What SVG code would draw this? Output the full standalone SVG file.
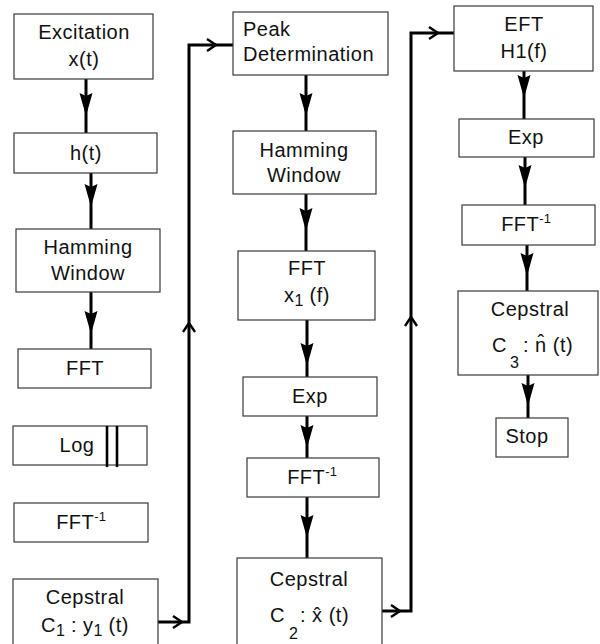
<svg xmlns="http://www.w3.org/2000/svg" xmlns:xlink="http://www.w3.org/1999/xlink" width="600" height="644" viewBox="0 0 600 644">
<style>
.box{fill:#fff;stroke:#3a3a3a;stroke-width:1.2}
.t{font-family:"Liberation Sans",Arial,sans-serif;font-size:20px;letter-spacing:0.5px;fill:#111;text-anchor:middle}
.l{text-anchor:start}
.sub{font-size:16px;letter-spacing:0}
.sup{font-size:13px;letter-spacing:0}
.c{fill:none;stroke:#000;stroke-width:3}
.f{fill:none;stroke:#000;stroke-width:3;stroke-linejoin:miter}
.ch{fill:none;stroke:#000;stroke-width:2.4}
.bar{stroke:#000;stroke-width:2.6}
</style>
<defs>
<marker id="ah" markerUnits="userSpaceOnUse" markerWidth="26" markerHeight="16" viewBox="-24 -8 26 16" refX="0" refY="0" orient="auto">
<path d="M0,0 L-23,-6.5 L-20,0 L-23,6.5 Z" fill="#000"/>
</marker>
<path id="chev" d="M-9,-6 L0,0 L-9,6" class="ch"/>
</defs>
<rect width="600" height="644" fill="#fff"/>

<g id="connectors">
<polyline class="c" points="86,79 86,116 86,133" marker-mid="url(#ah)"/>
<polyline class="c" points="91,173 91,207 91,229" marker-mid="url(#ah)"/>
<polyline class="c" points="91,292 91,334 91,349" marker-mid="url(#ah)"/>
<polyline class="c" points="306,75 306,116 306,131" marker-mid="url(#ah)"/>
<polyline class="c" points="306,194 306,231 306,251" marker-mid="url(#ah)"/>
<polyline class="c" points="307,320 307,366 307,377" marker-mid="url(#ah)"/>
<polyline class="c" points="307,416 307,448 307,458" marker-mid="url(#ah)"/>
<polyline class="c" points="307,497 307,538 307,558" marker-mid="url(#ah)"/>
<polyline class="c" points="524,71 524,98 524,119" marker-mid="url(#ah)"/>
<polyline class="c" points="525,157 525,188 525,205" marker-mid="url(#ah)"/>
<polyline class="c" points="527,245 527,276 527,291" marker-mid="url(#ah)"/>
<polyline class="c" points="528,375 528,406 528,418" marker-mid="url(#ah)"/>
<path class="f" d="M158,622 H189 V45 H233"/>
<use xlink:href="#chev" transform="translate(182,622)"/>
<use xlink:href="#chev" transform="translate(189,323) rotate(-90)"/>
<use xlink:href="#chev" transform="translate(216,45)"/>
<path class="f" d="M382,611 H411 V33 H454"/>
<use xlink:href="#chev" transform="translate(400,611)"/>
<use xlink:href="#chev" transform="translate(411,317) rotate(-90)"/>
<use xlink:href="#chev" transform="translate(438,33)"/>
</g>

<g id="excitation"><rect class="box" x="14" y="14" width="139" height="65"/>
<text class="t" x="84" y="39">Excitation</text><text class="t" x="84" y="66">x(t)</text></g>
<g id="ht"><rect class="box" x="14" y="133" width="143" height="40"/>
<text class="t" x="86" y="160">h(t)</text></g>
<g id="hamming1"><rect class="box" x="16" y="229" width="144" height="63"/>
<text class="t" x="88" y="254">Hamming</text><text class="t" x="88" y="280">Window</text></g>
<g id="fft1"><rect class="box" x="18" y="349" width="133" height="39"/>
<text class="t" x="85" y="375">FFT</text></g>
<g id="log"><rect class="box" x="13" y="426" width="134" height="39"/>
<text class="t" x="77" y="452">Log</text>
<line class="bar" x1="107" y1="426" x2="107" y2="467"/><line class="bar" x1="117" y1="426" x2="117" y2="467"/></g>
<g id="ifft1"><rect class="box" x="14" y="503" width="134" height="39"/>
<text class="t" x="81" y="529">FFT<tspan class="sup" dy="-8">-1</tspan></text></g>
<g id="cepstral1"><rect class="box" x="13" y="579" width="145" height="80"/>
<text class="t" x="85" y="604">Cepstral</text>
<text class="t" x="85" y="632">C<tspan class="sub" dy="4">1</tspan><tspan dy="-4"> : y</tspan><tspan class="sub" dy="4">1</tspan><tspan dy="-4"> (t)</tspan></text></g>

<g id="peak"><rect class="box" x="233" y="12" width="155" height="63"/>
<text class="t l" x="243" y="36">Peak</text><text class="t l" x="243" y="61">Determination</text></g>
<g id="hamming2"><rect class="box" x="233" y="131" width="143" height="63"/>
<text class="t" x="304" y="157">Hamming</text><text class="t" x="304" y="182">Window</text></g>
<g id="fft2"><rect class="box" x="238" y="251" width="137" height="69"/>
<text class="t" x="307" y="275">FFT</text>
<text class="t" x="307" y="302">x<tspan class="sub" dy="4">1</tspan><tspan dy="-4"> (f)</tspan></text></g>
<g id="exp2"><rect class="box" x="243" y="377" width="134" height="39"/>
<text class="t" x="310" y="403">Exp</text></g>
<g id="ifft2"><rect class="box" x="247" y="458" width="132" height="39"/>
<text class="t" x="312" y="484">FFT<tspan class="sup" dy="-8">-1</tspan></text></g>
<g id="cepstral2"><rect class="box" x="237" y="558" width="145" height="100"/>
<text class="t" x="309" y="586">Cepstral</text>
<text class="t l" x="270" y="622">C</text>
<text class="t l sub" x="289" y="639">2</text>
<text class="t l" x="300" y="622">: x̂ (t)</text></g>

<g id="eft"><rect class="box" x="454" y="6" width="139" height="65"/>
<text class="t" x="524" y="31">EFT</text><text class="t" x="524" y="58">H1(f)</text></g>
<g id="exp3"><rect class="box" x="459" y="119" width="135" height="38"/>
<text class="t" x="526" y="144">Exp</text></g>
<g id="ifft3"><rect class="box" x="462" y="205" width="133" height="40"/>
<text class="t" x="526" y="231">FFT<tspan class="sup" dy="-8">-1</tspan></text></g>
<g id="cepstral3"><rect class="box" x="458" y="291" width="140" height="84"/>
<text class="t" x="530" y="316">Cepstral</text>
<text class="t l" x="492" y="352">C</text>
<text class="t l sub" x="510" y="368">3</text>
<text class="t l" x="523" y="352">: n̂ (t)</text></g>
<g id="stop"><rect class="box" x="496" y="418" width="72" height="39"/>
<text class="t" x="527" y="443">Stop</text></g>
</svg>
